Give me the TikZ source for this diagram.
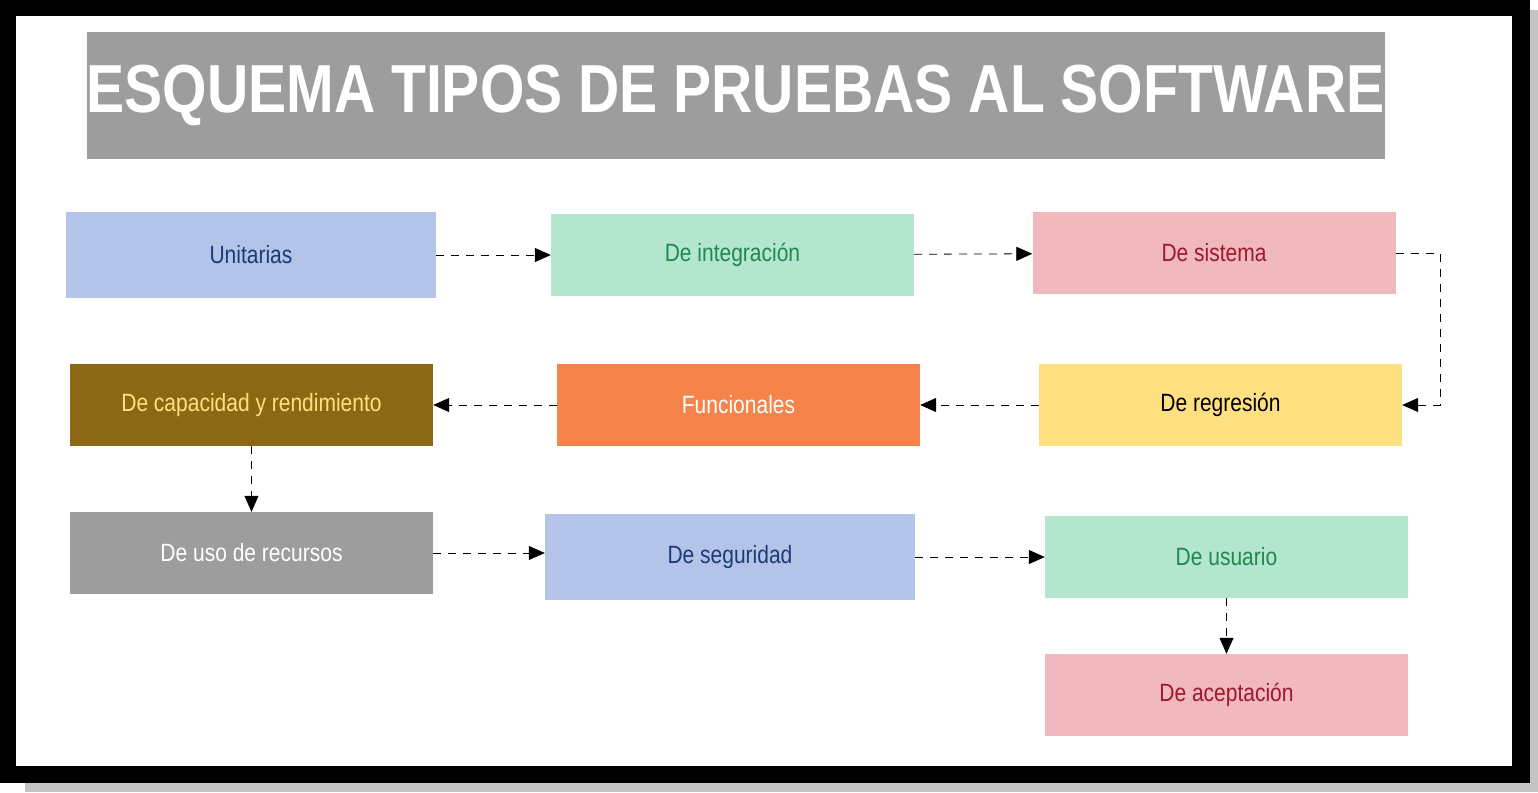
\documentclass[tikz,border=0pt]{standalone}
\usepackage{fontspec}
\setmainfont{Liberation Sans}[FakeStretch=0.84]
\usetikzlibrary{arrows.meta}
\definecolor{cblue}{HTML}{B4C3E8}\definecolor{tblue}{HTML}{1F3A78}
\definecolor{cgreen}{HTML}{B4E5CF}\definecolor{tgreen}{HTML}{1E8A50}
\definecolor{cpink}{HTML}{F0B9BE}\definecolor{tpink}{HTML}{A0182E}
\definecolor{cbrown}{HTML}{8B6914}\definecolor{cyel}{HTML}{FFE080}
\definecolor{corange}{HTML}{F5834A}\definecolor{cgray}{HTML}{9E9D9D}
\begin{document}
\begin{tikzpicture}[x=1pt,y=-1pt,
    main node/.style={rectangle,inner sep=0pt,minimum width=363pt,minimum height=82pt,font=\fontsize{25}{28}\selectfont},
    flow/.style={draw,thick,dashed,dash pattern=on 8pt off 7pt,-{Triangle[length=16pt,width=14pt]}}]
  \useasboundingbox (0,0) rectangle (1538,792);
  % frame
  \fill[cgray!60] (25,10) rectangle (1538,792);
  \fill[black] (0,0) rectangle (1530,783);
  \fill[white] (16,16) rectangle (1512,766);
  \node[fill=cgray,minimum width=1243pt,minimum height=127pt,inner sep=0pt,text=white,
        font=\fontsize{68}{70}\selectfont\bfseries] (title) at (735.5,95.5) {ESQUEMA TIPOS DE PRUEBAS AL SOFTWARE};

  \node[main node,fill=cblue,text=tblue,minimum width=370pt,minimum height=86pt] (1) at (251,255) {Unitarias};
  \node[main node,fill=cgreen,text=tgreen] (2) at (732.5,255) {De integración};
  \node[main node,fill=cpink,text=tpink] (3) at (1214,253) {De sistema};
  \node[main node,fill=cyel,text=black] (4) at (1220.5,405) {De regresión};
  \node[main node,fill=corange,text=white] (5) at (738.5,405) {Funcionales};
  \node[main node,fill=cbrown,text=cyel] (6) at (251.5,405) {De capacidad y rendimiento};
  \node[main node,fill=cgray,text=white] (7) at (251.5,553) {De uso de recursos};
  \node[main node,fill=cblue,text=tblue,minimum width=370pt,minimum height=86pt] (8) at (730,557) {De seguridad};
  \node[main node,fill=cgreen,text=tgreen] (9) at (1226.5,557) {De usuario};
  \node[main node,fill=cpink,text=tpink] (10) at (1226.5,695) {De aceptación};

  \coordinate (c1) at (1440,253);
  \coordinate (c2) at (1440,405);

  \draw[flow] (1) -- (2);
  \draw[flow] (2) -- (3);
  \draw[flow] (3.east) -- (c1) -- (c2) -- (4.east);
  \draw[flow] (4) -- (5);
  \draw[flow] (5) -- (6);
  \draw[flow] (6) -- (7);
  \draw[flow] (7.east) -- (8.west|-7.east);
  \draw[flow] (8) -- (9);
  \draw[flow] (9) -- (10);
\end{tikzpicture}
\end{document}
